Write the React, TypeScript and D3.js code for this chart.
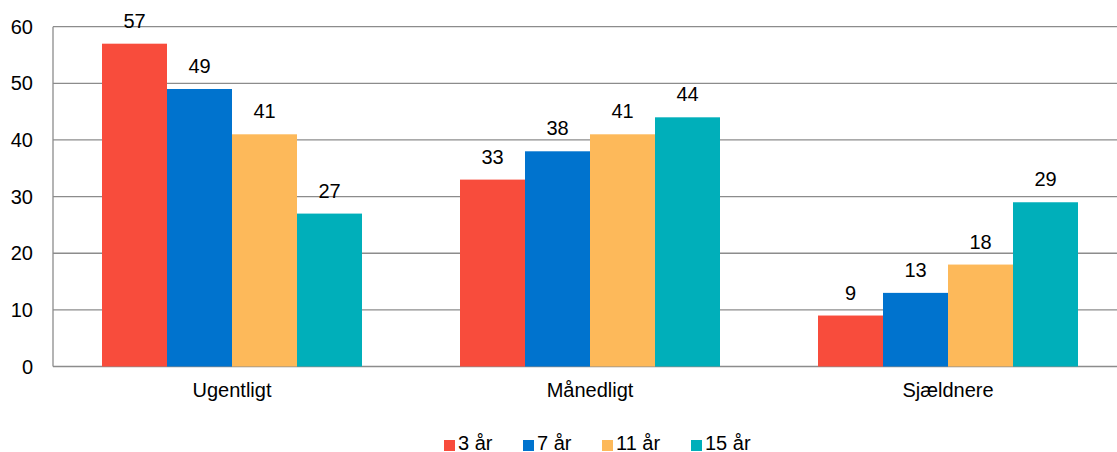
import React from "react";
import * as d3 from "d3";

const categories = ["Ugentligt", "Månedligt", "Sjældnere"];
const seriesNames = ["3 år", "7 år", "11 år", "15 år"];
const s3 = [57, 33, 9];
const s7 = [49, 38, 13];
const s11 = [41, 41, 18];
const s15 = [27, 44, 29];
const yTicks = [0, 10, 20, 30, 40, 50, 60];
const colors = ["#F84C3C", "#0073CE", "#FDB95A", "#00AFBA"];

const W = 1117;
const H = 452;
const left = 53;
const top = 26.7;
const bottom = 366.5;
const bandW = 358;

export default function App() {
  const seriesVals = [s3, s7, s11, s15];
  const x = d3.scaleBand<string>().domain(categories).range([left, left + bandW * 3]).paddingInner(0).paddingOuter(0);
  const inner = d3.scaleBand<number>().domain([0, 1, 2, 3]).range([0, 260]);
  const y = d3.scaleLinear().domain([0, 60]).range([bottom, top]);
  const font = "Liberation Sans, Arial, sans-serif";
  const legendX = [444, 523, 602, 691];
  return (
    <svg width={W} height={H} style={{ position: "absolute", left: 0, top: 0, background: "#fff" }} fontFamily={font}>
      {yTicks.map((t) => (
        <g key={t}>
          <line x1={left} x2={W} y1={y(t)} y2={y(t)} stroke="#8c8c8c" strokeWidth={1.3} />
          <text x={left - 20} y={y(t) + 7} textAnchor="end" fontSize={20} fill="#000">{t}</text>
        </g>
      ))}
      <line x1={left} x2={left} y1={top} y2={bottom} stroke="#8c8c8c" strokeWidth={1.3} />
      {categories.map((c, ci) => {
        const gx = (x(c) as number) + (x.bandwidth() - 260) / 2;
        return (
          <g key={c}>
            {seriesVals.map((sv, si) => {
              const bx = gx + (inner(si) as number);
              const v = sv[ci];
              return (
                <g key={si}>
                  <rect x={bx} y={y(v)} width={inner.bandwidth()} height={y(0) - y(v)} fill={colors[si]} />
                  <text x={bx + inner.bandwidth() / 2} y={y(v) - 16} textAnchor="middle" fontSize={20} fill="#000">{v}</text>
                </g>
              );
            })}
            <text x={(x(c) as number) + x.bandwidth() / 2} y={397} textAnchor="middle" fontSize={20} fill="#000">{c}</text>
          </g>
        );
      })}
      {seriesNames.map((n, i) => (
        <g key={n}>
          <rect x={legendX[i]} y={440} width={11} height={11} fill={colors[i]} />
          <text x={legendX[i] + 14} y={450} fontSize={20} fill="#000">{n}</text>
        </g>
      ))}
    </svg>
  );
}
